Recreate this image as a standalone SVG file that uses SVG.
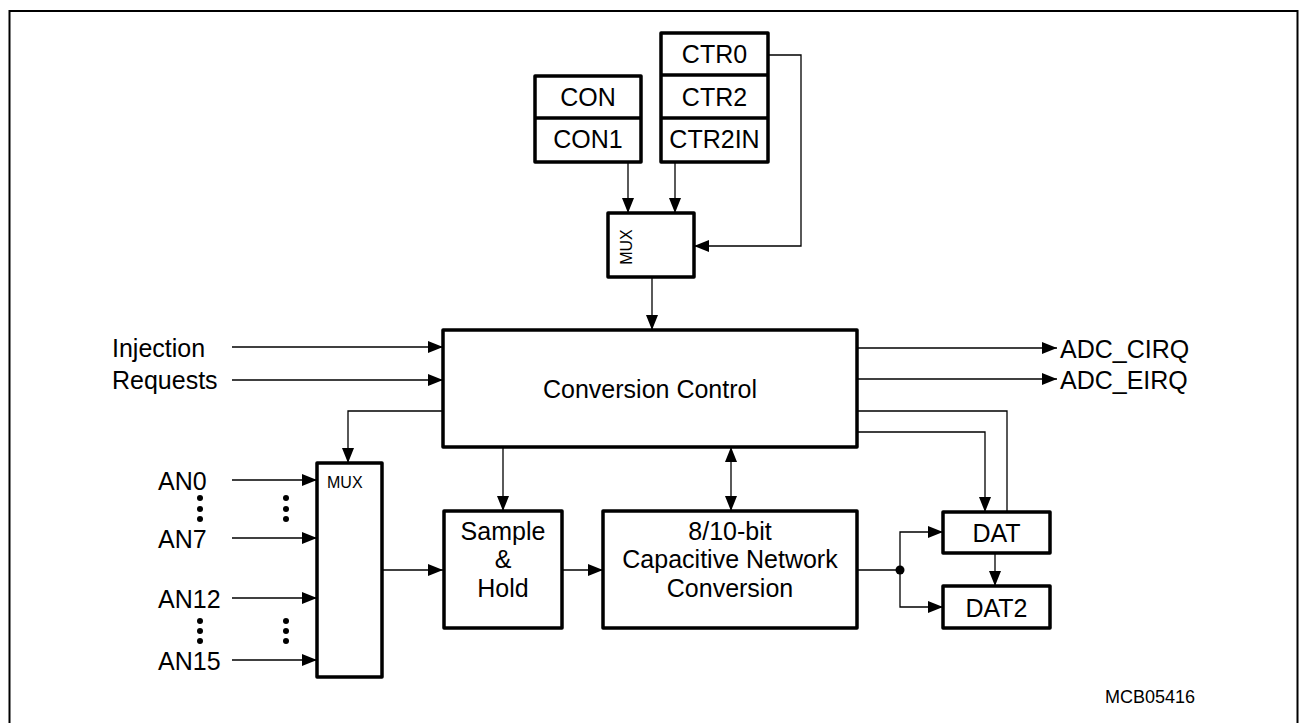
<svg xmlns="http://www.w3.org/2000/svg" width="1299" height="723" viewBox="0 0 1299 723">
<style>
.box{fill:#fff;stroke:#000;stroke-width:3.5;stroke-linejoin:round}
.ln{fill:none;stroke:#000;stroke-width:1.3}
.t{font-family:"Liberation Sans",Arial,sans-serif;font-size:25px;fill:#000}
.c{text-anchor:middle}
.s{font-family:"Liberation Sans",Arial,sans-serif;font-size:16px;fill:#000}
</style>
<defs>
<marker id="ah" viewBox="0 0 15 12" refX="15" refY="6" markerWidth="15" markerHeight="12" markerUnits="userSpaceOnUse" orient="auto-start-reverse">
<path d="M0,0 L15,6 L0,12 Z" fill="#000"/>
</marker>
</defs>
<rect width="1299" height="723" fill="#fff"/>
<path d="M9.5,723 V11 H1297.5 V723" fill="none" stroke="#000" stroke-width="2"/>
<path d="M1297.5,11 V723" fill="none" stroke="#000" stroke-width="1"/>

<g id="connectors">
<path class="ln" d="M628,162 V213" marker-end="url(#ah)"/>
<path class="ln" d="M675,162 V213" marker-end="url(#ah)"/>
<path class="ln" d="M768,55 H801 V246 H694" marker-end="url(#ah)"/>
<path class="ln" d="M652,277 V330" marker-end="url(#ah)"/>
<path class="ln" d="M232,347 H443" marker-end="url(#ah)"/>
<path class="ln" d="M232,380 H443" marker-end="url(#ah)"/>
<path class="ln" d="M443,411 H348 V463" marker-end="url(#ah)"/>
<path class="ln" d="M232,480 H317" marker-end="url(#ah)"/>
<path class="ln" d="M232,538 H317" marker-end="url(#ah)"/>
<path class="ln" d="M232,598 H317" marker-end="url(#ah)"/>
<path class="ln" d="M232,660 H317" marker-end="url(#ah)"/>
<path class="ln" d="M382,570 H443" marker-end="url(#ah)"/>
<path class="ln" d="M503,447 V511" marker-end="url(#ah)"/>
<path class="ln" d="M562,570 H603" marker-end="url(#ah)"/>
<path class="ln" d="M731,447 V511" marker-start="url(#ah)" marker-end="url(#ah)"/>
<path class="ln" d="M857,348 H1057" marker-end="url(#ah)"/>
<path class="ln" d="M857,379 H1057" marker-end="url(#ah)"/>
<path class="ln" d="M857,411 H1007 V512"/>
<path class="ln" d="M857,432 H985 V512" marker-end="url(#ah)"/>
<path class="ln" d="M995,553 V586" marker-end="url(#ah)"/>
<path class="ln" d="M857,570 H900"/>
<path class="ln" d="M900,570 V532 H943" marker-end="url(#ah)"/>
<path class="ln" d="M900,570 V607 H943" marker-end="url(#ah)"/>
<circle cx="900" cy="570" r="4.5" fill="#000"/>
<g fill="#000">
<circle cx="200" cy="498" r="3"/><circle cx="200" cy="509" r="3"/><circle cx="200" cy="519" r="3"/>
<circle cx="286" cy="498" r="3"/><circle cx="286" cy="509" r="3"/><circle cx="286" cy="519" r="3"/>
<circle cx="200" cy="621" r="3"/><circle cx="200" cy="631" r="3"/><circle cx="200" cy="641" r="3"/>
<circle cx="286" cy="621" r="3"/><circle cx="286" cy="631" r="3"/><circle cx="286" cy="641" r="3"/>
</g>
</g>

<g id="con">
<rect class="box" x="535" y="76" width="106" height="86"/>
<line x1="535" y1="118" x2="641" y2="118" stroke="#000" stroke-width="3.5"/>
<text class="t c" x="588" y="106">CON</text>
<text class="t c" x="588" y="148">CON1</text>
</g>
<g id="ctr">
<rect class="box" x="661" y="33" width="107" height="129"/>
<line x1="661" y1="75" x2="768" y2="75" stroke="#000" stroke-width="3.5"/>
<line x1="661" y1="118" x2="768" y2="118" stroke="#000" stroke-width="3.5"/>
<text class="t c" x="714.5" y="63">CTR0</text>
<text class="t c" x="714.5" y="106">CTR2</text>
<text class="t c" x="714.5" y="148">CTR2IN</text>
</g>
<g id="mux-top">
<rect class="box" x="608" y="213" width="86" height="64"/>
<text class="s c" x="632" y="247" transform="rotate(-90 632 247)">MUX</text>
</g>
<g id="conversion-control">
<rect class="box" x="443" y="330" width="414" height="117"/>
<text class="t c" x="650" y="398">Conversion Control</text>
</g>
<g id="mux-an">
<rect class="box" x="317" y="463" width="65" height="214"/>
<text class="s" x="327" y="488">MUX</text>
</g>
<g id="sample-hold">
<rect class="box" x="444" y="511" width="118" height="117"/>
<text class="t c" x="503" y="540">Sample</text>
<text class="t c" x="503" y="568">&amp;</text>
<text class="t c" x="503" y="597">Hold</text>
</g>
<g id="cap-network">
<rect class="box" x="603" y="511" width="254" height="117"/>
<text class="t c" x="730" y="540">8/10-bit</text>
<text class="t c" x="730" y="568">Capacitive Network</text>
<text class="t c" x="730" y="597">Conversion</text>
</g>
<g id="dat">
<rect class="box" x="943" y="512" width="107" height="41"/>
<text class="t c" x="996.5" y="542">DAT</text>
</g>
<g id="dat2">
<rect class="box" x="943" y="586" width="107" height="42"/>
<text class="t c" x="996.5" y="617">DAT2</text>
</g>
<g id="labels">
<text class="t" x="112" y="357">Injection</text>
<text class="t" x="112" y="389">Requests</text>
<text class="t" x="158" y="490">AN0</text>
<text class="t" x="158" y="548">AN7</text>
<text class="t" x="158" y="608">AN12</text>
<text class="t" x="158" y="670">AN15</text>
<text class="t" x="1060" y="358">ADC_CIRQ</text>
<text class="t" x="1060" y="389">ADC_EIRQ</text>
<text class="t" x="1105" y="703" style="font-size:18px">MCB05416</text>
</g>
</svg>
